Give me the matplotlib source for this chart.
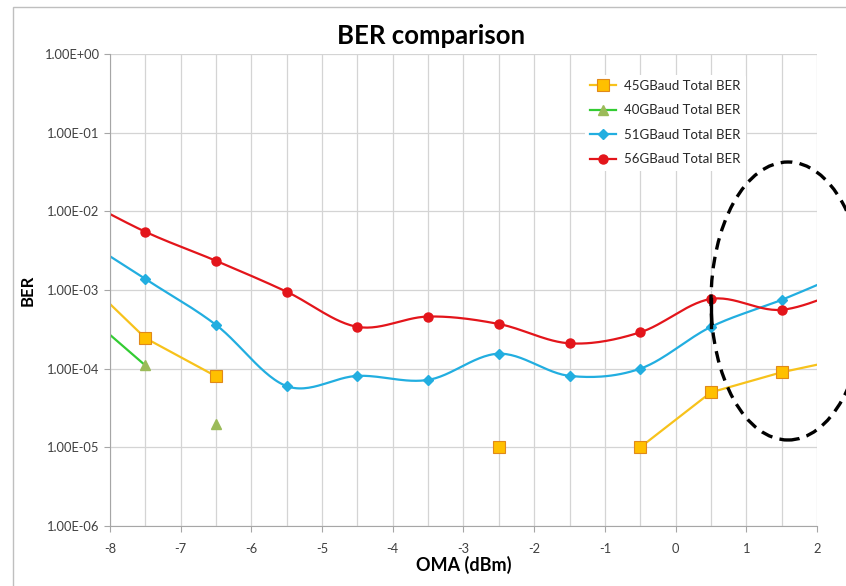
import numpy as np
import matplotlib
matplotlib.use("Agg")
from matplotlib import pyplot as plt
from matplotlib.patches import Ellipse, Rectangle
from matplotlib.ticker import FixedLocator, FuncFormatter, MultipleLocator

plt.rcParams['font.family'] = ['Lato', 'DejaVu Sans']
plt.rcParams['axes.unicode_minus'] = False

# OMA points (dBm); the outer two sit just past the axis edges so lines run to the frame
oma = [-8.5, -7.5, -6.5, -5.5, -4.5, -3.5, -2.5, -1.5, -0.5, 0.5, 1.5, 2.5]

ber_45 = [1.8e-3, 2.45e-4, 8.0e-5, np.nan, np.nan, np.nan, 1.0e-5, np.nan, 1.0e-5, 5.0e-5, 9.0e-5, 1.4e-4]
ber_51 = [5.2e-3, 1.38e-3, 3.6e-4, 6.0e-5, 8.1e-5, 7.2e-5, 1.55e-4, 8.1e-5, 1.0e-4, 3.4e-4, 7.5e-4, 1.8e-3]
ber_56 = [1.6e-2, 5.5e-3, 2.35e-3, 9.5e-4, 3.4e-4, 4.6e-4, 3.7e-4, 2.1e-4, 2.9e-4, 7.7e-4, 5.6e-4, 1.1e-3]

# 40GBaud: only the first two are joined by a line
oma_40 = [-8.5, -7.5, -6.5]
ber_40 = [6.6e-4, 1.1e-4, 2.0e-5]

labels = ['45GBaud Total BER', '40GBaud Total BER', '51GBaud Total BER', '56GBaud Total BER']
decades = [1e-6, 1e-5, 1e-4, 1e-3, 1e-2, 1e-1, 1e0]


def smooth(xs, ys, n=30):
    # excel-style smoothed line: catmull-rom bezier in (x, log10 y)
    x = np.asarray(xs, float)
    y = np.log10(np.asarray(ys, float))
    px, py = [], []
    for i in range(len(x) - 1):
        i0 = max(i - 1, 0)
        i3 = min(i + 2, len(x) - 1)
        b1x = x[i] + (x[i + 1] - x[i0]) / 6
        b1y = y[i] + (y[i + 1] - y[i0]) / 6
        b2x = x[i + 1] - (x[i3] - x[i]) / 6
        b2y = y[i + 1] - (y[i3] - y[i]) / 6
        t = np.linspace(0, 1, n)
        px.append((1-t)**3*x[i] + 3*(1-t)**2*t*b1x + 3*(1-t)*t**2*b2x + t**3*x[i+1])
        py.append((1-t)**3*y[i] + 3*(1-t)**2*t*b1y + 3*(1-t)*t**2*b2y + t**3*y[i+1])
    return np.concatenate(px), 10 ** np.concatenate(py)


fig = plt.figure(figsize=(8.46, 5.86), dpi=100)
ax = fig.add_axes([0.130, 0.1024, 0.8357, 0.8054])

# outer chart frame
fig.patches.append(Rectangle((13/846, -0.05), 1.0, 1 - 7/586 + 0.05, transform=fig.transFigure,
                             fill=False, edgecolor='#BFBFBF', linewidth=1.0))

yellow = '#F7C21B'
green = '#33CC33'
blue = '#22AEE0'
red = '#E3151B'

# 45GBaud, straight segments
h45, = ax.plot(oma, ber_45, color=yellow, lw=1.6, marker='s', ms=8,
               mfc='#FFC000', mec='#E0891A', mew=0.8)

# 40GBaud
ax.plot(oma_40[:2], ber_40[:2], color=green, lw=1.6)
ax.plot(oma_40[1:], ber_40[1:], ls='none', marker='^', ms=7, mfc='#9BBB59', mec='#9BBB59')
h40, = ax.plot([], [], color=green, lw=1.6, marker='^', ms=7, mfc='#9BBB59', mec='#9BBB59')

# 51GBaud, smoothed
sx, sy = smooth(oma, ber_51)
ax.plot(sx, sy, color=blue, lw=1.6)
ax.plot(oma, ber_51, ls='none', marker='D', ms=5, color=blue)
h51, = ax.plot([], [], color=blue, lw=1.6, marker='D', ms=5)

# 56GBaud, smoothed
sx, sy = smooth(oma, ber_56)
ax.plot(sx, sy, color=red, lw=1.6)
ax.plot(oma, ber_56, ls='none', marker='o', ms=6.5, color=red)
h56, = ax.plot([], [], color=red, lw=1.6, marker='o', ms=6.5)

ax.set_yscale('log')
ax.set_xlim(-8, 2)
ax.set_ylim(1e-6, 1e0)
ax.yaxis.set_major_locator(FixedLocator(decades))
ax.yaxis.set_minor_locator(FixedLocator([]))
ax.yaxis.set_major_formatter(FuncFormatter(lambda v, p: f"{v:.2E}"))
ax.xaxis.set_major_locator(MultipleLocator(1))
ax.xaxis.set_minor_locator(MultipleLocator(0.5))
ax.xaxis.set_major_formatter(FuncFormatter(lambda v, p: f"{v:g}"))

ax.grid(True, which='major', color='#D4D4D4', lw=0.9)
ax.grid(True, which='minor', axis='x', color='#D4D4D4', lw=0.9)
ax.set_axisbelow(True)
for s in ['top', 'right']:
    ax.spines[s].set_visible(False)
for s in ['left', 'bottom']:
    ax.spines[s].set_color('#A6A6A6')
ax.tick_params(which='both', length=4, color='#A6A6A6', labelsize=9.3, labelcolor='#404040')
ax.tick_params(axis='x', which='minor', length=0)
ax.tick_params(axis='x', pad=8)

ax.set_xlabel('OMA (dBm)', fontsize=13, fontweight='bold', labelpad=1)
ax.set_ylabel('BER', fontsize=12, fontweight='bold', labelpad=6)
fig.text(431/846, 1 - 36/586, 'BER comparison', ha='center', va='center',
         fontsize=18.5, fontweight='bold')

leg = ax.legend([h45, h40, h51, h56], labels, loc='upper left',
                bbox_to_anchor=(578/846, 1 - 68/586), bbox_transform=fig.transFigure,
                fontsize=9.5, frameon=True, facecolor='white', edgecolor='none', framealpha=1,
                handlelength=2.0, handletextpad=0.6, labelspacing=0.95, borderpad=0.4)
for t in leg.get_texts():
    t.set_color('#262626')

# highlight ring round the high-OMA points
ring = Ellipse((788/846, 1 - 301/586), 154/846, 278/586, transform=fig.transFigure,
               fill=False, edgecolor='black', lw=2.4, ls=(0, (3.5, 2.2)), clip_on=False)
fig.patches.append(ring)
# solid stroke where the ring crosses between the 56G and 51G points at 0.5 dBm
ax.plot([oma[9], oma[9]], [ber_56[9], ber_51[9]], color='black', lw=2.4, zorder=5)

fig.savefig('out.png', dpi=100)
